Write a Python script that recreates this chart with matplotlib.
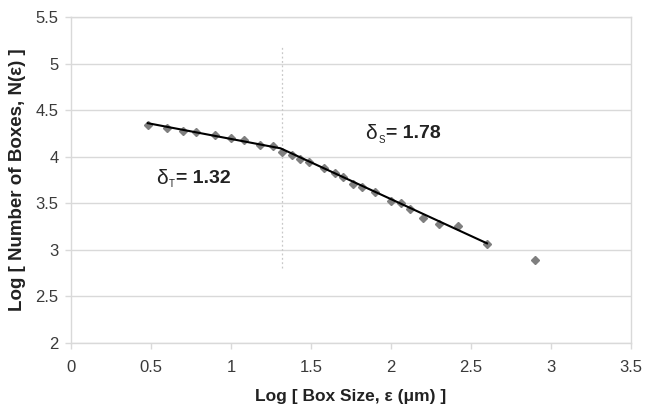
import matplotlib
matplotlib.use("Agg")
import matplotlib.pyplot as plt

# ---- data ----
log_box = [0.48, 0.60, 0.70, 0.78, 0.90, 1.00, 1.08, 1.18, 1.26, 1.32, 1.38, 1.43,
           1.49, 1.58, 1.65, 1.70, 1.76, 1.82, 1.90, 2.00, 2.06, 2.12, 2.20, 2.30,
           2.42, 2.60, 2.90]
log_n = [4.34, 4.31, 4.28, 4.26, 4.23, 4.20, 4.18, 4.13, 4.11, 4.05, 4.02, 3.98,
         3.94, 3.88, 3.83, 3.78, 3.71, 3.67, 3.62, 3.52, 3.50, 3.44, 3.34, 3.28,
         3.26, 3.06, 2.89]
fit_x = [0.48, 1.31, 2.60]
fit_y = [4.36, 4.09, 3.07]
crossover_x = 1.32
crossover_span = [2.8, 5.2]
x_ticks = [0, 0.5, 1, 1.5, 2, 2.5, 3, 3.5]
x_ticklabels = ["0", "0.5", "1", "1.5", "2", "2.5", "3", "3.5"]
y_ticks = [2, 2.5, 3, 3.5, 4, 4.5, 5, 5.5]
y_ticklabels = ["2", "2.5", "3", "3.5", "4", "4.5", "5", "5.5"]
labels_dim = [("T", "1.32", 0.53, 3.77), ("S", "1.78", 1.84, 4.25)]

fig = plt.figure(figsize=(6.54, 4.12), dpi=100)
ax = fig.add_axes([71/654, 1-343/412, 560/654, 326/412])

grid_c = "#d9d9d9"
for y in y_ticks:
    ax.axhline(y, color=grid_c, lw=1.0, zorder=0)
ax.plot([crossover_x, crossover_x], crossover_span, color="#c8c8c8", lw=0.9,
        ls=(0, (1.5, 2)), zorder=1)

ax.plot(log_box, log_n, ls="none", marker="D", ms=4.5, color="#7f7f7f",
        mec="#7f7f7f", zorder=2)
ax.plot(fit_x, fit_y, color="black", lw=1.5, zorder=3)

ax.set_xlim(0, 3.5)
ax.set_ylim(2, 5.5)
ax.set_xticks(x_ticks)
ax.set_xticklabels(x_ticklabels)
ax.set_yticks(y_ticks)
ax.set_yticklabels(y_ticklabels)
for s in ax.spines.values():
    s.set_color(grid_c)
    s.set_linewidth(1.0)
ax.tick_params(axis="both", colors=grid_c, labelcolor="#3a3a3a", length=4, width=1,
               direction="out", labelsize=12)
ax.tick_params(axis="x", pad=8)
ax.tick_params(axis="y", pad=5)
for lab in ax.get_xticklabels() + ax.get_yticklabels():
    lab.set_fontfamily("Liberation Sans")

ax.set_xlabel("Log [ Box Size, ε (μm) ]", fontsize=12.5, fontweight="bold",
              family="Liberation Sans", color="#222222")
ax.xaxis.set_label_coords(0.5, (343 - 389) / 326)
ax.set_ylabel("Log [ Number of Boxes, N(ε) ]", fontsize=13.5, fontweight="bold",
              family="Liberation Sans", color="#222222")
ax.yaxis.set_label_coords((26 - 71) / 560, 0.5)

for sub, val, x, y in labels_dim:
    ax.annotate("δ", (x, y), fontsize=15, family="Liberation Sans",
                color="#222222", va="center", ha="left")
    ax.annotate(sub, (x, y), xytext=(9.5, -4.5), textcoords="offset points",
                fontsize=7, family="Liberation Sans", color="#222222",
                va="center", ha="left")
    ax.annotate("= " + val, (x, y), xytext=(14.5, 0), textcoords="offset points",
                fontsize=14, fontweight="bold", family="Liberation Sans",
                color="#222222", va="center", ha="left")

fig.savefig("out.png", dpi=100)
